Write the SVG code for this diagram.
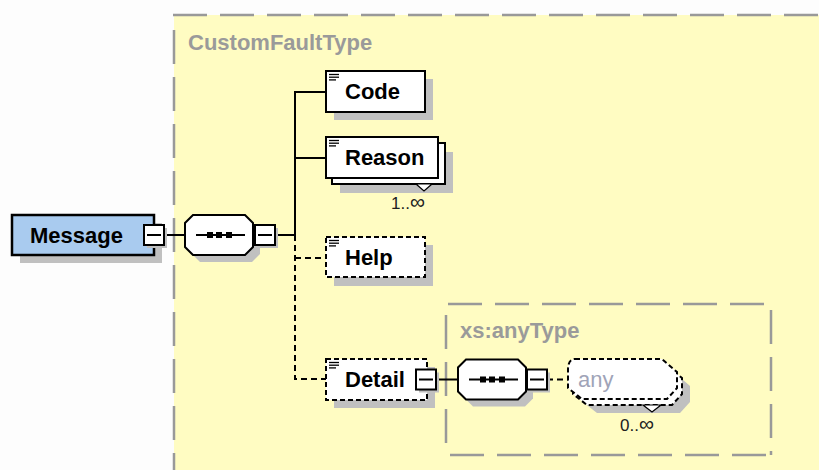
<svg xmlns="http://www.w3.org/2000/svg" width="819" height="470" viewBox="0 0 819 470">
  <style>
    .bg { fill: #fdfdfd; }
    .area { fill: #fffcc2; }
    .frame { fill: none; stroke: #999999; stroke-width: 2.5; stroke-dasharray: 34 13; }
    .shadow { fill: #c0c0c0; stroke: none; }
    .node { fill: #ffffff; stroke: #000000; stroke-width: 2; }
    .opt { fill: #ffffff; stroke: #000000; stroke-width: 2; stroke-dasharray: 5 3; }
    .root { fill: #a9cbef; stroke: #000000; stroke-width: 2.5; }
    .label { font-family: "Liberation Sans", Arial, sans-serif; font-size: 22px; font-weight: bold; fill: #000000; }
    .type { font-family: "Liberation Sans", Arial, sans-serif; font-size: 22px; font-weight: bold; fill: #9a9a9a; }
    .wild { font-family: "Liberation Sans", Arial, sans-serif; font-size: 22px; fill: #a0a4b8; }
    .occ { font-family: "Liberation Sans", Arial, sans-serif; font-size: 17px; fill: #202020; }
    .inf { font-size: 21px; }
    .wire { fill: none; stroke: #000000; stroke-width: 2; }
    .wire-opt { fill: none; stroke: #000000; stroke-width: 2; stroke-dasharray: 6 4; }
    .icon { stroke: #000000; stroke-width: 1.3; }
    .toggle { fill: #ffffff; stroke: #000000; stroke-width: 2; }
  </style>
  <defs>
    <!-- "-" collapse toggle, centred on its origin -->
    <g id="toggle">
      <rect class="shadow" x="-7" y="-7" width="20" height="20"/>
      <rect class="toggle" x="-10" y="-10" width="20" height="20"/>
      <line x1="-7" y1="0" x2="7" y2="0" stroke="#000" stroke-width="2"/>
    </g>
    <!-- sequence compositor, 68x40, origin at top-left -->
    <g id="sequence">
      <polygon class="shadow" points="15,7 67,7 75,15 75,39 67,47 15,47 7,39 7,15"/>
      <polygon class="node" points="8,0 60,0 68,8 68,32 60,40 8,40 0,32 0,8"/>
      <line x1="11" y1="20" x2="60" y2="20" stroke="#000" stroke-width="2"/>
      <rect x="22" y="17" width="6" height="6" fill="#000"/>
      <rect x="31" y="17" width="6" height="6" fill="#000"/>
      <rect x="41" y="17" width="6" height="6" fill="#000"/>
    </g>
    <!-- element annotation icon -->
    <g id="doc">
      <line class="icon" x1="0" y1="0" x2="10" y2="0"/>
      <line class="icon" x1="0" y1="2.7" x2="10" y2="2.7"/>
      <line class="icon" x1="0" y1="5.4" x2="7" y2="5.4"/>
    </g>
  </defs>

  <rect class="bg" x="0" y="0" width="819" height="470"/>

  <!-- CustomFaultType complex type area -->
  <g id="customFaultType">
    <rect class="area" x="174" y="15" width="660" height="470"/>
    <path class="frame" d="M173,15 H819"/>
    <path class="frame" d="M174,30 V470"/>
    <text class="type" x="188" y="50">CustomFaultType</text>
  </g>

  <!-- xs:anyType area -->
  <g id="anyType">
    <rect class="area" x="446" y="304" width="325" height="151"/>
    <path class="frame" d="M448,304 H771"/>
    <path class="frame" d="M771,310 V455"/>
    <path class="frame" d="M450,455 H771"/>
    <path class="frame" d="M446,315 V455"/>
    <text class="type" x="460" y="338">xs:anyType</text>
  </g>

  <!-- connectors -->
  <g id="connectors">
    <line class="wire" x1="164" y1="235" x2="185" y2="235"/>
    <line class="wire" x1="275" y1="235" x2="296" y2="235"/>
    <path class="wire" d="M326,92 H295 V235"/>
    <line class="wire" x1="295" y1="158" x2="326" y2="158"/>
    <path class="wire-opt" d="M295,235 V379 H326"/>
    <line class="wire-opt" x1="295" y1="258" x2="326" y2="258"/>
    <line class="wire" x1="436" y1="379.5" x2="458" y2="379.5"/>
    <line class="wire-opt" x1="547" y1="379.5" x2="568" y2="379.5"/>
  </g>

  <g id="message">
    <rect class="shadow" x="20" y="223" width="142" height="40"/>
    <rect class="root" x="12" y="215" width="142" height="40"/>
    <text class="label" x="30" y="243">Message</text>
    <use href="#toggle" x="154" y="235"/>
  </g>

  <g id="sequence1">
    <use href="#sequence" x="185" y="215"/>
    <use href="#toggle" x="265" y="235"/>
  </g>

  <g id="code">
    <rect class="shadow" x="334" y="79" width="99" height="41"/>
    <rect class="node" x="326" y="71" width="99" height="41"/>
    <use href="#doc" x="329" y="74.5"/>
    <text class="label" x="345" y="98.5">Code</text>
  </g>

  <g id="reason">
    <rect class="shadow" x="340" y="152" width="113" height="41"/>
    <rect class="node" x="332" y="143" width="113" height="41"/>
    <polygon points="416,184 432,184 424,191" fill="#fff" stroke="#000" stroke-width="1.2"/>
    <rect class="node" x="326" y="137" width="112" height="41"/>
    <use href="#doc" x="329" y="140.5"/>
    <text class="label" x="345" y="164.5">Reason</text>
    <text class="occ" x="391" y="209">1..<tspan class="inf">∞</tspan></text>
  </g>

  <g id="help">
    <rect class="shadow" x="334" y="245" width="99" height="41"/>
    <rect class="opt" x="326" y="237" width="99" height="40"/>
    <use href="#doc" x="329" y="240.5"/>
    <text class="label" x="345" y="264.5">Help</text>
  </g>

  <g id="detail">
    <rect class="shadow" x="334" y="367" width="101" height="41"/>
    <rect class="opt" x="326" y="359" width="101" height="41"/>
    <use href="#doc" x="329" y="362.5"/>
    <text class="label" x="345" y="386.5">Detail</text>
    <use href="#toggle" x="426" y="379.5"/>
  </g>

  <g id="sequence2">
    <use href="#sequence" x="458" y="359.5"/>
    <use href="#toggle" x="537" y="379.5"/>
  </g>

  <g id="any">
    <path class="shadow" d="M583,373 H675 L690,386 V402 L680,413 H597 L583,402 Z"/>
    <path class="opt" d="M580,365 H667 L682,378 V394 L672,405 H587 L573,394 V376 Q573,365 580,365 Z"/>
    <polygon points="643,405 661,405 652,412" fill="#fff" stroke="#000" stroke-width="1.2"/>
    <path class="opt" d="M575,359 H662 L677,372 V388 L667,399 H582 L568,388 V370 Q568,359 575,359 Z"/>
    <text class="wild" x="578" y="387">any</text>
    <text class="occ" x="620" y="431">0..<tspan class="inf">∞</tspan></text>
  </g>
</svg>
